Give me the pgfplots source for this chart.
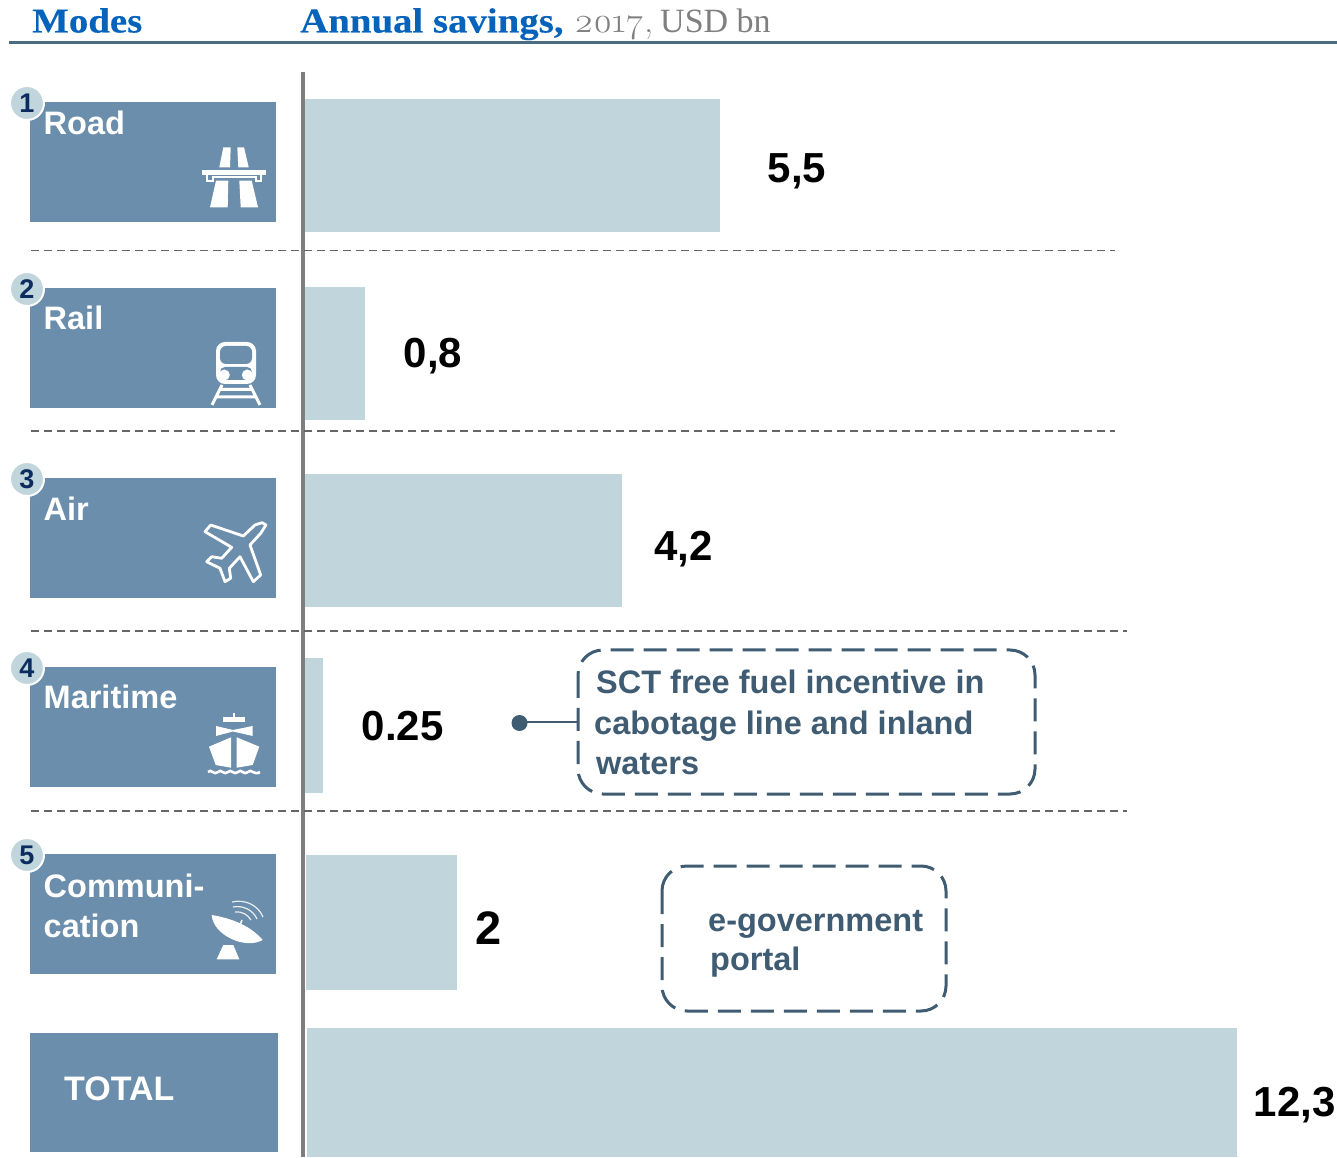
\documentclass[border=0pt]{standalone}
\usepackage{fontspec}
\usepackage{pgfplots}
\pgfplotsset{compat=1.18}
\setmainfont{Liberation Sans}
\newfontfamily\titlefont[FakeStretch=1.11,FakeBold=0.25]{Liberation Serif}
\newfontfamily\grayfont[FakeStretch=1.0]{Liberation Serif}
\newfontfamily\osffont[Numbers=OldStyle,FakeStretch=1.06]{Latin Modern Roman}
\definecolor{card}{HTML}{6A8EAB}
\definecolor{barc}{HTML}{C1D5DC}
\definecolor{rule}{HTML}{4A6B80}
\definecolor{dark}{HTML}{3F5C72}
\definecolor{navy}{HTML}{0B2C5E}
\definecolor{tblue}{HTML}{0563BB}
\definecolor{tgray}{HTML}{7F7F7F}
\newcommand{\px}[1]{\fontsize{#1}{#1}\selectfont}
\begin{document}
\begin{tikzpicture}
\useasboundingbox (0,0) rectangle (1337pt,1157pt);
\begin{axis}[
  at={(0,0)},anchor=south west,
  width=1337pt,height=1157pt,scale only axis,hide axis,
  xmin=-4.0278,xmax=13.6574,ymin=0,ymax=1157,y dir=reverse,
  clip=true,
  every axis plot/.append style={xbar,bar shift=0pt,fill=barc,draw=none},
]
\addplot[bar width=133pt] coordinates {(5.5,165.5)};
\addplot[bar width=133pt] coordinates {(0.8,353.5)};
\addplot[bar width=133pt] coordinates {(4.2,540.5)};
\addplot[bar width=135pt] coordinates {(0.25,725.5)};
\addplot[bar width=135pt,xshift=1.5pt] coordinates {(2,922.5)};
\addplot[bar width=129pt,xshift=2.5pt] coordinates {(12.3,1092.5)};
\end{axis}
\begin{scope}[x=1pt,y=-1pt,yshift=1157pt]
% header
\node[anchor=base west,inner sep=0,text=tblue] at (32,32.5) {\titlefont\bfseries\px{35}Modes};
\node[anchor=base west,inner sep=0,text=tblue] at (300,32.5) {\titlefont\bfseries\px{35}Annual savings,};
\node[anchor=base west,inner sep=0,text=tgray] at (574,32.5) {\osffont\px{35}2017,};
\node[anchor=base west,inner sep=0,text=tgray] at (660,32.5) {\grayfont\px{34}USD bn};
\draw[rule,line width=2.5pt] (9,42.5) -- (1337,42.5);
% axis line
\draw[tgray,line width=4pt] (302.5,72) -- (302.5,1157);
% separators
\foreach \y/\e in {250.5/1115,431/1115,631/1127,811/1127}
  \draw[black!60,line width=1.6pt,dash pattern=on 8pt off 5pt] (31,\y) -- (\e,\y);
% cards
\foreach \a/\b in {102/222,288/408,478/598,667/787,854/974}
  \fill[card] (30,\a) rectangle (275.5,\b);
\fill[card] (30,1033) rectangle (278,1152);
% circles
\foreach \y/\n in {103/1,289/2,479/3,668/4,855/5}{
  \fill[barc,draw=white,line width=2pt] (27,\y) circle[radius=17pt];
  \node[text=navy,inner sep=0] at (27,\y) {\bfseries\px{27}\n};
}
% card text
\foreach \y/\t in {135/Road,330/Rail,521/Air,709/Maritime,897/Communi-,937/cation}
  \node[anchor=base west,inner sep=0,text=white] at (43.5,\y) {\bfseries\px{32.5}\t};
\node[anchor=base west,inner sep=0,text=white] at (64,1100) {\bfseries\px{34}TOTAL};
% values
\foreach \x/\y/\t in {767.5/183/{5,5},403.5/368/{0,8},654/561/{4,2},361.5/740/{0.25},1253.5/1116/{12,3}}
  \node[anchor=base west,inner sep=0,text=black] at (\x,\y) {\bfseries\px{42}\t};
\node[anchor=base west,inner sep=0,text=black] at (475,944) {\bfseries\px{47}2};
% callouts
\draw[dark,line width=3pt,dash pattern=on 23pt off 10pt,rounded corners=25pt] (578,650) rectangle (1035,794);
\draw[dark,line width=3pt,dash pattern=on 23pt off 10pt,rounded corners=25pt] (662,866) rectangle (946,1011);
\fill[dark] (519.5,723) circle[radius=8pt];
\draw[dark,line width=2pt] (519.5,722.5) -- (578,722.5);
\foreach \x/\y/\t in {596/694/{SCT free fuel incentive in},594/735/{cabotage line and inland},596/774.5/{waters},708/931.5/{e-government},710/970.5/{portal}}
  \node[anchor=base west,inner sep=0,text=dark] at (\x,\y) {\bfseries\px{32.5}\t};
% road icon
\fill[white] (223.3,147.3)--(230.7,147.3)--(230,167.3)--(219.3,167.3)--cycle;
\fill[white] (237.3,147.3)--(244,147.3)--(248.7,167.3)--(238.3,167.3)--cycle;
\fill[white] (202,170.5) rectangle (266,175);
\draw[white,line width=1.5pt] (207,175)--(207,181)--(213,181)--(213,177)--(256,177)--(256,181)--(261,181)--(261,175);
\fill[white] (216,180.7)--(228.3,180.7)--(227.7,207.3)--(210,207.3)--cycle;
\fill[white] (239.3,180.7)--(251.7,180.7)--(258,207.3)--(240.7,207.3)--cycle;
% rail icon
\fill[white,rounded corners=9pt] (216,342) rectangle (256,384);
\fill[card,rounded corners=6pt] (220,346) rectangle (252,364);
\fill[card,rounded corners=5pt] (220,367) rectangle (252,380);
\fill[white] (224.3,375) circle[radius=5.5pt];
\fill[white] (247.3,375) circle[radius=5.5pt];
\draw[white,line width=3pt] (222,385)--(212,405) (250,385)--(260,405) (219,389.5)--(253,389.5) (216,397)--(256,397);
% air icon
\draw[white,line width=2.8pt,line join=round] (262,522.7)--(255,525)--(243.3,536)--(210.7,525)--(205,531.7)--(231.7,547.3)--(221.7,558.3)--(211.7,556.7)--(206.7,561.7)--(220,568.3)--(225,581.7)--(230.7,578.3)--(229.3,568.3)--(240,556.7)--(253.3,581.7)--(260.7,575)--(250,545)--(260.7,533.3)--(266,525)--cycle;
% ship icon
\fill[white] (232.7,713.3) rectangle (235.3,717);
\fill[white] (222.7,716.7) rectangle (245,722);
\fill[white] (216,726)--(233,730)--(252.7,726)--(252.7,736)--(233,731.5)--(216,736)--cycle;
\fill[white] (209,746.7)--(231,737.3)--(231,767.7)--(215.7,765)--cycle;
\fill[white] (236.7,737.3)--(259.3,746.7)--(252.7,765)--(236.7,767.7)--cycle;
\draw[white,line width=2.6pt] (208,772) .. controls (211,768) and (214,776) .. (218,772) .. controls (221,768) and (224,776) .. (228,772) .. controls (231,768) and (234,776) .. (238,772) .. controls (241,768) and (244,776) .. (248,772) .. controls (251,768) and (254,776) .. (260,772);
% dish icon
\fill[white] (211.7,915) .. controls (213,935) and (245,950) .. (262.7,940) .. controls (250,925) and (230,918) .. (211.7,915)--cycle;
\draw[white,line width=1.5pt] (240,925)--(242,920);
\fill[white] (223.3,945)--(233.3,945)--(239.3,959.3)--(216.7,959.3)--cycle;
\draw[white!85!card,line width=1.2pt] (232,902) .. controls (245,899) and (258,905) .. (263,917);
\draw[white!85!card,line width=1.2pt] (233,907) .. controls (243,905) and (253,910) .. (257,919);
\draw[white!85!card,line width=1.2pt] (235,912) .. controls (242,911) and (248,915) .. (251,920);
\end{scope}
\end{tikzpicture}
\end{document}
